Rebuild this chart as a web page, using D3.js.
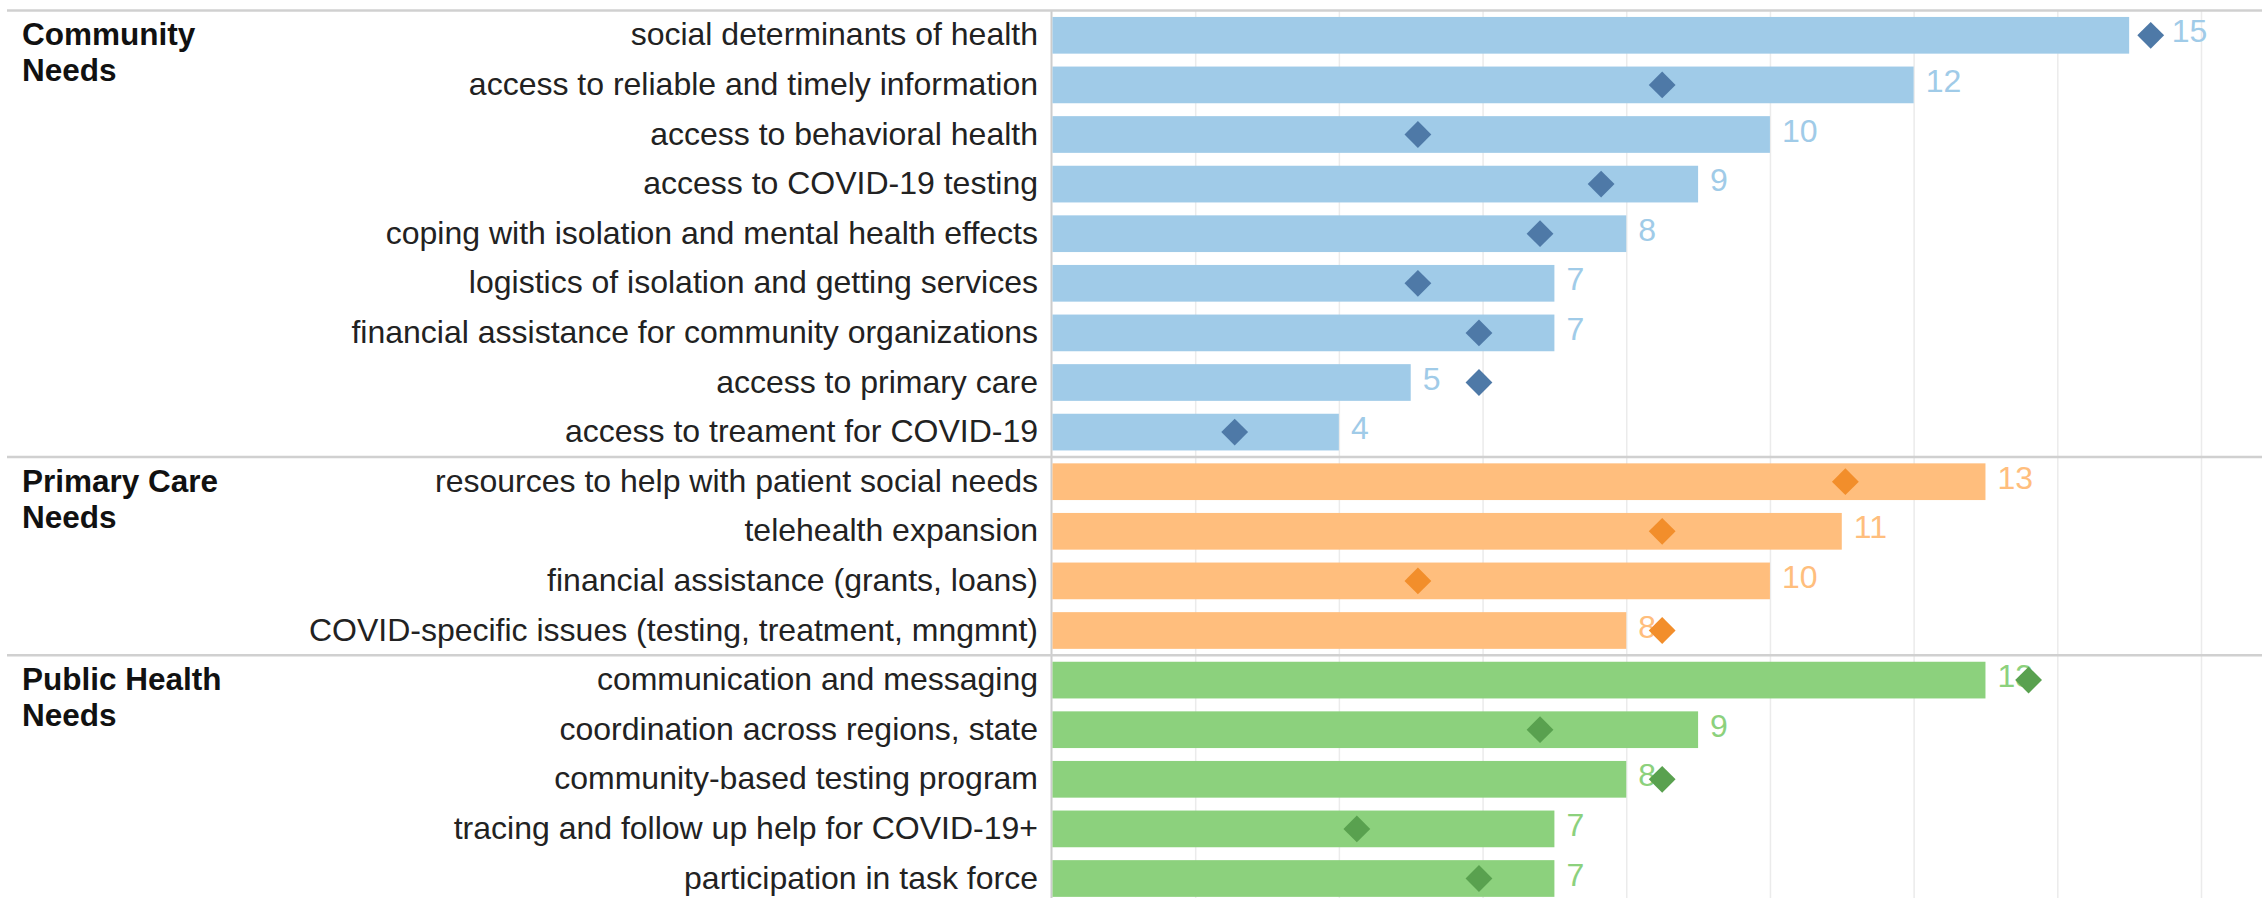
<!DOCTYPE html>
<html>
<head>
<meta charset="utf-8">
<script src="https://cdn.jsdelivr.net/npm/d3@7"></script>
<style>
  body { margin: 0; background: #fff; }
  text { font-family: "Liberation Sans", Arial, sans-serif; }
  text.val { font-family: "Liberation Sans Narrow", "Arial Narrow", "Liberation Sans", sans-serif; }
</style>
</head>
<body>
<script>
var w = 2262
var h = 898

// group headers (two lines each)
var groupNames = [["Community", "Needs"], ["Primary Care", "Needs"], ["Public Health", "Needs"]]

var categories = [
  "social determinants of health",
  "access to reliable and timely information",
  "access to behavioral health",
  "access to COVID-19 testing",
  "coping with isolation and mental health effects",
  "logistics of isolation and getting services",
  "financial assistance for community organizations",
  "access to primary care",
  "access to treament for COVID-19",
  "resources to help with patient social needs",
  "telehealth expansion",
  "financial assistance (grants, loans)",
  "COVID-specific issues (testing, treatment, mngmnt)",
  "communication and messaging",
  "coordination across regions, state",
  "community-based testing program",
  "tracing and follow up help for COVID-19+",
  "participation in task force"
]
var categoryGroup = [0, 0, 0, 0, 0, 0, 0, 0, 0, 1, 1, 1, 1, 2, 2, 2, 2, 2]
var counts = [15, 12, 10, 9, 8, 7, 7, 5, 4, 13, 11, 10, 8, 13, 9, 8, 7, 7]
var markers = [15.3, 8.5, 5.1, 7.65, 6.8, 5.1, 5.95, 5.95, 2.55, 11.05, 8.5, 5.1, 8.5, 13.6, 6.8, 8.5, 4.25, 5.95]
var gridTicks = [2, 4, 6, 8, 10, 12, 14, 16]

var barColors = ["#a0cbe8", "#ffbe7d", "#8cd17d"]
var markerColors = ["#4e79a7", "#f28e2b", "#59a14f"]

var yTop = 10.5   // first separator line
var step = 49.6   // height of one row
var axisX = 1051.5

var svg = d3.select("body")
            .append("svg")
            .attr("width", w)
            .attr("height", h)

var x = d3.scaleLinear()
          .domain([0, 16])
          .range([axisX, 2201])

var y = d3.scaleBand()
          .domain(d3.range(categories.length))
          .range([yTop, yTop + step * categories.length])
          .paddingInner(0.26)
          .paddingOuter(0.13)

// vertical gridlines
svg.append("g")
  .attr("transform", "translate(0," + yTop + ")")
  .call(d3.axisTop(x).tickValues(gridTicks).tickSize(-(h - yTop + 20)).tickFormat(""))
  .call(function(g) { g.select(".domain").remove() })
  .selectAll("line")
    .attr("stroke", "#ebebeb")
    .attr("stroke-width", 1.5)

// zero axis line
svg.append("line")
  .attr("x1", axisX).attr("x2", axisX)
  .attr("y1", yTop).attr("y2", h)
  .attr("stroke", "#cccccc")
  .attr("stroke-width", 2)

// group separators, at the first row of every group
var firstRows = groupNames.map(function(g, i) { return categoryGroup.indexOf(i) })

svg.selectAll("line.sep")
  .data(firstRows)
  .enter().append("line")
  .attr("class", "sep")
  .attr("x1", 7).attr("x2", w)
  .attr("y1", function(d) { return yTop + d * step })
  .attr("y2", function(d) { return yTop + d * step })
  .attr("stroke", "#d0d0d0")
  .attr("stroke-width", 2.5)

// group names
var groupLabels = svg.selectAll("text.group")
  .data(groupNames)
  .enter().append("text")
  .attr("class", "group")
  .attr("x", 22)
  .attr("y", function(d, i) { return y(firstRows[i]) + y.bandwidth() / 2 + 10 })
  .attr("font-size", "31.5px")
  .attr("font-weight", "bold")
  .attr("fill", "#111")

groupLabels.selectAll("tspan")
  .data(function(d) { return d })
  .enter().append("tspan")
  .attr("x", 22)
  .attr("dy", function(d, i) { return i === 0 ? 0 : 36 })
  .text(function(d) { return d })

// category labels
svg.selectAll("text.cat")
  .data(categories)
  .enter().append("text")
  .attr("class", "cat")
  .attr("x", 1038)
  .attr("y", function(d, i) { return y(i) + y.bandwidth() / 2 + 10 })
  .attr("text-anchor", "end")
  .attr("font-size", "32px")
  .attr("fill", "#222")
  .text(function(d) { return d })

// bars
svg.selectAll("rect.bar")
  .data(counts)
  .enter().append("rect")
  .attr("class", "bar")
  .attr("x", x(0) + 1)
  .attr("y", function(d, i) { return y(i) })
  .attr("width", function(d) { return x(d) - x(0) - 1 })
  .attr("height", y.bandwidth())
  .attr("fill", function(d, i) { return barColors[categoryGroup[i]] })

// value labels
var maxCount = d3.max(counts)
svg.selectAll("text.val")
  .data(counts)
  .enter().append("text")
  .attr("class", "val")
  .attr("x", function(d, i) {
    // the longest bar's label sits after its marker
    if (d === maxCount) return x(markers[i]) + 21
    return x(d) + 12
  })
  .attr("y", function(d, i) { return y(i) + y.bandwidth() / 2 + 7 })
  .attr("font-size", "32px")
  .attr("fill", function(d, i) { return barColors[categoryGroup[i]] })
  .text(function(d) { return d })

// diamond markers
var diamond = d3.symbol().type(d3.symbolSquare).size(360)

svg.selectAll("path.mark")
  .data(markers)
  .enter().append("path")
  .attr("class", "mark")
  .attr("d", diamond)
  .attr("transform", function(d, i) {
    return "translate(" + x(d) + "," + (y(i) + y.bandwidth() / 2) + ") rotate(45)"
  })
  .attr("fill", function(d, i) { return markerColors[categoryGroup[i]] })
</script>
</body>
</html>
